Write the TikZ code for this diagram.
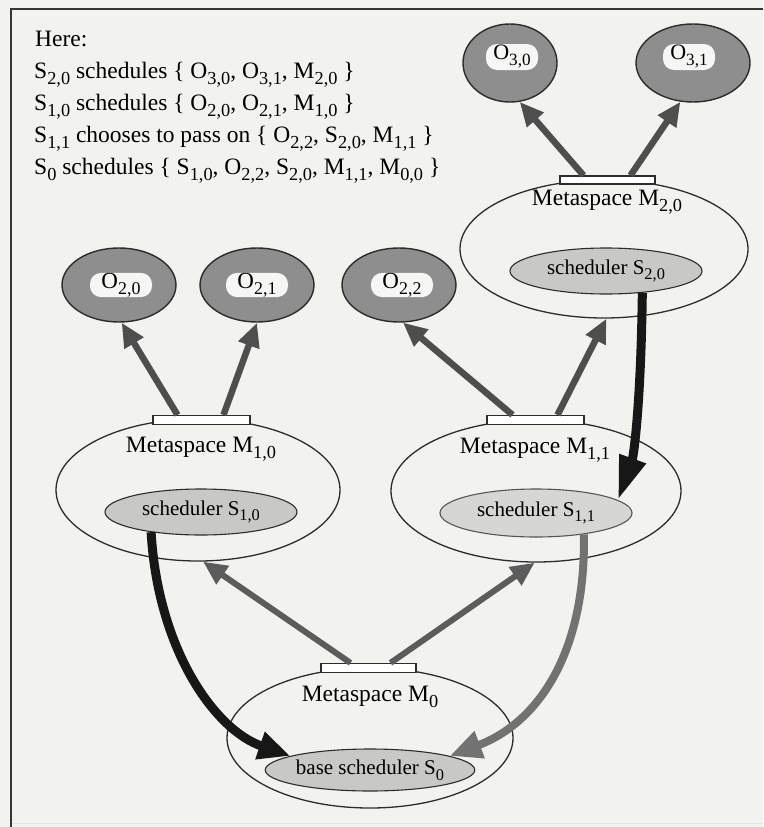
\documentclass[tikz,border=0pt]{standalone}
\usepackage{fontspec}
\setmainfont{Liberation Serif}
\usepackage{graphicx}
\usetikzlibrary{shapes.geometric,arrows.meta,calc}

\definecolor{paper}{HTML}{F2F2EE}
\definecolor{objfill}{HTML}{8E8E8E}
\definecolor{tagfill}{HTML}{F6F6F4}
\definecolor{schedfill}{HTML}{C8C8C6}
\definecolor{schedlight}{HTML}{D6D6D4}
\definecolor{edge}{HTML}{2C2C2C}
\definecolor{armgray}{HTML}{4E4E4E}
\definecolor{linkgray}{HTML}{5C5C5C}
\definecolor{passgray}{HTML}{727272}
\definecolor{heavy}{HTML}{171717}
\definecolor{rule}{HTML}{353535}

% lowered, smaller index for S, O and M names
\newcommand\ix[1]{\raisebox{-0.27em}{\scalebox{0.78}{#1}}}

\tikzset{
  space/.style={ellipse, draw=edge, line width=1.3pt, fill=paper, inner sep=0pt},
  obj/.style={ellipse, draw=edge, line width=1.4pt, fill=objfill, inner sep=0pt,
    minimum width=114pt, minimum height=74pt},
  tag/.style={rounded corners=11pt, fill=tagfill, inner sep=0pt,
    minimum width=62pt, minimum height=24pt, font=\fontsize{23}{23}\selectfont},
  smalltag/.style={tag, minimum width=52pt, minimum height=26pt,
    font=\fontsize{22}{22}\selectfont},
  sched/.style={ellipse, draw=edge, line width=1.1pt, fill=schedfill, inner sep=0pt,
    minimum width=192pt, minimum height=45pt, font=\fontsize{21}{21}\selectfont},
  port/.style={rectangle, draw=edge, line width=1.2pt, fill=white, inner sep=0pt,
    minimum width=96pt, minimum height=9pt},
  spacelabel/.style={anchor=base, inner sep=0pt, font=\fontsize{23.5}{23.5}\selectfont},
  legendline/.style={anchor=base west, inner sep=0pt, font=\fontsize{23.5}{23.5}\selectfont},
  arm/.style={draw=armgray, line width=6.5pt, -{Triangle[length=24pt,width=21pt]}},
  link/.style={draw=linkgray, line width=6pt, -{Triangle[length=24pt,width=21pt]}},
  handoff/.style={draw=heavy, line width=9pt, -{Triangle[length=44pt,width=26pt]}},
  yield/.style={draw=heavy, line width=9pt, -{Triangle[length=32pt,width=27pt]}},
  passon/.style={draw=passgray, line width=8pt, -{Triangle[length=32pt,width=27pt]}},
}

\begin{document}
\begin{tikzpicture}[x=1pt,y=-1pt]
  \useasboundingbox (0,0) rectangle (763,827);
  \fill[paper] (0,0) rectangle (763,827);

  % page frame
  \draw[rule, line width=2.2pt] (11,827) -- (11,9) -- (763,9);
  \draw[black!10, line width=1pt] (12,823) -- (763,823);

  % legend
  \node[legendline] (l0) at (35,46) {Here:};
  \node[legendline] (l1) at (34,78) {S\ix{2,0} schedules \{ O\ix{3,0}, O\ix{3,1}, M\ix{2,0} \}};
  \node[legendline] (l2) at (34,110) {S\ix{1,0} schedules \{ O\ix{2,0}, O\ix{2,1}, M\ix{1,0} \}};
  \node[legendline] (l3) at (34,142) {S\ix{1,1} chooses to pass on \{ O\ix{2,2}, S\ix{2,0}, M\ix{1,1} \}};
  \node[legendline] (l4) at (34,174) {S\ix{0} schedules \{ S\ix{1,0}, O\ix{2,2}, S\ix{2,0}, M\ix{1,1}, M\ix{0,0} \}};

  % metaspaces
  \node[space, minimum width=288pt, minimum height=138pt] (m20) at (604,249) {};
  \node[space, minimum width=284pt, minimum height=142pt] (m10) at (198,490) {};
  \node[space, minimum width=290pt, minimum height=142pt] (m11) at (536,491) {};
  \node[space, minimum width=286pt, minimum height=140pt] (m0) at (370,738) {};

  \node[spacelabel] (t20) at (607,205) {Metaspace M\ix{2,0}};
  \node[spacelabel] (t10) at (201,452) {Metaspace M\ix{1,0}};
  \node[spacelabel] (t11) at (535,453) {Metaspace M\ix{1,1}};
  \node[spacelabel] (t0) at (370,701) {Metaspace M\ix{0}};

  % schedulers
  \node[sched, minimum height=46pt] (s20) at (606,271) {scheduler S\ix{2,0}};
  \node[sched, minimum height=46pt] (s10) at (201,512) {scheduler S\ix{1,0}};
  \node[sched, fill=schedlight, draw=edge!80, minimum height=48pt] (s11) at (536,513) {scheduler S\ix{1,1}};
  \node[sched, minimum height=42pt] (s0) at (370,770) {base scheduler S\ix{0}};

  % objects
  \node[obj, minimum width=94pt, minimum height=78pt] (o30) at (510,63) {};
  \node[obj, minimum width=114pt, minimum height=78pt] (o31) at (693,63) {};
  \node[obj] (o20) at (119,285) {};
  \node[obj] (o21) at (257,285) {};
  \node[obj] (o22) at (399,285) {};

  \node[smalltag] (n30) at (512,57) {O\ix{3,0}};
  \node[smalltag] (n31) at (689,57) {O\ix{3,1}};
  \node[tag] (n20) at (121,285) {O\ix{2,0}};
  \node[tag] (n21) at (257,285) {O\ix{2,1}};
  \node[tag] (n22) at (402,285) {O\ix{2,2}};

  % metaspace ports
  \node[port, minimum width=95pt, minimum height=8pt] (p20) at (607.5,180) {};
  \node[port, minimum width=97pt] (p10) at (201.5,420) {};
  \node[port, minimum width=97pt] (p11) at (535.5,420) {};
  \node[port, minimum width=95pt] (p0) at (368.5,668) {};

  % objects reached through each port
  \draw[arm] ($(p20.north)+(-24,0)$) -- (o30.-76);
  \draw[arm] ($(p20.north)+(23,0)$) -- (o31.-108);
  \draw[arm] ($(p10.north)+(-24,0)$) -- (o20.-86);
  \draw[arm] ($(p10.north)+(22,0)$) -- (o21.-90);
  \draw[arm] ($(p11.north)+(-23,0)$) -- (o22.-84);
  \draw[arm] ($(p11.north)+(22,0)$) -- (m20.-88);
  \draw[link] ($(p0.north)+(-18,0)$) -- (m10.-86);
  \draw[link] ($(p0.north)+(22,0)$) -- (m11.-91);

  % scheduler hand-offs
  \draw[handoff] (s20.-31) .. controls (641,400) and (634,455) .. (s11.9);
  \draw[yield] (s10.-158) .. controls (158,650) and (215,730) .. (s0.170);
  \draw[passon] (s11.-24) .. controls (586,650) and (540,722) .. (s0.10);
\end{tikzpicture}
\end{document}
